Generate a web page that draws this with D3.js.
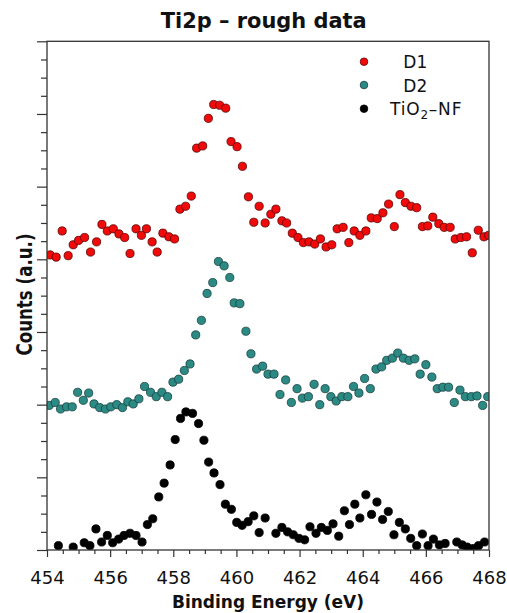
<!DOCTYPE html>
<html><head><meta charset="utf-8">
<script src="https://cdn.jsdelivr.net/npm/d3@7"></script>
<style>body{margin:0;background:#fff;} svg{display:block;}</style>
</head><body>
<svg id="c" width="507" height="613"></svg>
<script>
// ---- data (binding energy in eV, counts in arbitrary units) ----
const d1X = [454.10,454.29,454.48,454.67,454.83,455.00,455.19,455.38,455.57,455.74,
 455.91,456.10,456.28,456.46,456.63,456.82,456.99,457.15,457.33,457.49,
 457.67,457.86,458.04,458.21,458.39,458.57,458.74,458.93,459.11,459.28,
 459.47,459.66,459.83,460.02,460.19,460.38,460.55,460.72,460.91,461.09,
 461.25,461.44,461.59,461.77,461.95,462.12,462.30,462.48,462.66,462.84,
 463.02,463.19,463.38,463.56,463.73,463.91,464.10,464.27,464.46,464.64,
 464.82,465.00,465.18,465.35,465.53,465.71,465.89,466.06,466.22,466.41,
 466.58,466.77,466.93,467.11,467.29,467.47,467.66,467.84,467.99];
const d1Y = [4.06,4.03,4.39,4.05,4.20,4.26,4.30,4.10,4.24,4.48,
 4.39,4.42,4.35,4.30,4.08,4.42,4.33,4.42,4.24,4.10,
 4.36,4.31,4.28,4.69,4.73,4.87,5.53,5.56,5.94,6.13,
 6.12,6.08,5.62,5.55,5.28,4.86,4.51,4.73,4.50,4.62,
 4.69,4.53,4.50,4.36,4.30,4.23,4.24,4.21,4.28,4.17,
 4.20,4.42,4.44,4.23,4.39,4.33,4.39,4.57,4.56,4.64,
 4.76,4.45,4.89,4.78,4.73,4.71,4.45,4.46,4.58,4.49,
 4.44,4.44,4.28,4.30,4.31,4.09,4.40,4.31,4.33];

const d2X = [454.07,454.26,454.43,454.62,454.80,454.97,455.15,455.32,455.49,455.67,
 455.85,456.02,456.21,456.39,456.56,456.73,456.91,457.09,457.28,457.46,
 457.64,457.82,457.99,458.17,458.35,458.53,458.71,458.89,459.07,459.25,
 459.43,459.61,459.79,459.93,460.11,460.30,460.46,460.64,460.83,461.00,
 461.19,461.38,461.56,461.74,461.92,462.09,462.28,462.46,462.64,462.81,
 462.99,463.16,463.34,463.53,463.71,463.88,464.06,464.24,464.42,464.60,
 464.76,464.94,465.11,465.29,465.47,465.65,465.82,466.00,466.19,466.36,
 466.54,466.72,466.90,467.08,467.25,467.44,467.62,467.80,467.96];
const d2Y = [1.99,2.03,1.94,1.97,1.97,2.17,2.06,2.16,2.01,1.96,
 1.94,1.97,2.00,1.96,2.04,2.01,2.08,2.25,2.17,2.11,
 2.17,2.11,2.31,2.35,2.47,2.56,2.96,3.16,3.53,3.68,
 3.97,3.91,3.75,3.40,3.39,3.01,2.70,2.49,2.53,2.42,
 2.42,2.14,2.34,2.03,2.22,2.09,2.11,2.28,2.00,2.22,
 2.11,2.05,2.11,2.11,2.25,2.16,2.36,2.22,2.49,2.52,
 2.61,2.64,2.71,2.64,2.61,2.63,2.42,2.55,2.38,2.22,
 2.24,2.24,2.03,2.20,2.11,2.11,2.12,1.99,2.11];

const nfX = [454.36,454.83,455.18,455.36,455.55,455.73,455.91,456.08,456.27,456.44,
 456.63,456.82,457.01,457.18,457.35,457.54,457.71,457.90,458.06,458.23,
 458.40,458.61,458.80,458.97,459.12,459.29,459.48,459.65,459.84,460.01,
 460.18,460.37,460.55,460.72,460.91,461.25,461.44,461.62,461.80,461.98,
 462.16,462.33,462.52,462.69,462.88,463.06,463.24,463.42,463.58,463.75,
 463.91,464.10,464.28,464.45,464.63,464.81,464.99,465.16,465.35,465.52,
 465.71,465.89,466.07,466.24,466.43,466.61,466.98,467.15,467.31,467.50,
 467.67,467.86];
const nfY = [0.06,0.04,0.10,0.06,0.29,0.11,0.20,0.10,0.15,0.20,
 0.23,0.20,0.11,0.35,0.43,0.73,0.92,1.17,1.52,1.81,
 1.90,1.88,1.74,1.51,1.21,1.06,0.90,0.63,0.56,0.38,
 0.34,0.39,0.47,0.24,0.44,0.23,0.31,0.25,0.21,0.16,
 0.14,0.32,0.23,0.31,0.27,0.36,0.19,0.54,0.35,0.63,
 0.44,0.76,0.49,0.66,0.42,0.53,0.21,0.38,0.29,0.16,
 0.06,0.22,0.06,0.15,0.07,0.09,0.11,0.07,0.04,0.02,
 0.06,0.11];

const xMajorTicks = [454,456,458,460,462,464,466,468];
const xMinorTicks = [454.5,455,455.5,456.5,457,457.5,458.5,459,459.5,460.5,461,461.5,
                     462.5,463,463.5,464.5,465,465.5,466.5,467,467.5];
const yMajorTicks = [0,1,2,3,4,5,6,7];
const seriesNames = ["D1","D2","TiO2-NF"];
const titleText = "Ti2p \u2013 rough data";
const xTitle = "Binding Energy (eV)";
const yTitle = "Counts (a.u.)";

// ---- layout ----
const svg = d3.select("#c");
const P = {left:47, right:489, top:41.3, bottom:550};
const x = d3.scaleLinear().domain([454,468]).range([P.left,P.right]);
const y = d3.scaleLinear().domain([0,7]).range([P.bottom,P.top]);
const axisColor = "#333";

const series = [
  {name:seriesNames[0], xs:d1X, ys:d1Y, fill:"#f00a0a", stroke:"#5a0000"},
  {name:seriesNames[1], xs:d2X, ys:d2Y, fill:"#2c8a85", stroke:"#163f3c"},
  {name:seriesNames[2], xs:nfX, ys:nfY, fill:"#000000", stroke:"#000000"}
];

svg.append("defs").append("clipPath").attr("id","plotclip")
  .append("rect").attr("x",P.left).attr("y",P.top)
  .attr("width",P.right-P.left).attr("height",P.bottom-P.top);

// points
const plot = svg.append("g").attr("clip-path","url(#plotclip)");
series.forEach(s => {
  plot.append("g").selectAll("circle")
    .data(s.xs.map((v,i)=>[v,s.ys[i]]))
    .join("circle")
    .attr("cx",d=>x(d[0])).attr("cy",d=>y(d[1])).attr("r",4.1)
    .attr("fill",s.fill).attr("stroke",s.stroke).attr("stroke-width",0.8);
});

// x axis
const gxMinor = svg.append("g").attr("transform",`translate(0,${P.bottom})`)
  .call(d3.axisBottom(x).tickValues(xMinorTicks).tickSize(4).tickSizeOuter(0).tickFormat(""));
const gxMajor = svg.append("g").attr("transform",`translate(0,${P.bottom})`)
  .call(d3.axisBottom(x).tickValues(xMajorTicks).tickSize(7).tickSizeOuter(0).tickFormat(d3.format("d")));
[gxMinor,gxMajor].forEach(g=>{
  g.select(".domain").remove();
  g.selectAll(".tick line").attr("stroke",axisColor).attr("stroke-width",1.2);
});
gxMajor.selectAll(".tick text").attr("y",34.3).attr("dy",null)
  .attr("font-family","DejaVu Sans").attr("font-size",18).attr("fill","#111");

// y axis (no labels)
const yMinor = d3.range(1,28).map(k=>k/4).filter(v=>v%1!==0);
const gyMinor = svg.append("g").attr("transform",`translate(${P.left},0)`)
  .call(d3.axisLeft(y).tickValues(yMinor).tickSize(6).tickSizeOuter(0).tickFormat(""));
const gyMajor = svg.append("g").attr("transform",`translate(${P.left},0)`)
  .call(d3.axisLeft(y).tickValues(yMajorTicks).tickSize(10).tickSizeOuter(0).tickFormat(""));
[gyMinor,gyMajor].forEach(g=>{
  g.select(".domain").remove();
  g.selectAll(".tick line").attr("stroke",axisColor).attr("stroke-width",1.2);
});

// frame
svg.append("rect").attr("x",P.left).attr("y",P.top)
  .attr("width",P.right-P.left).attr("height",P.bottom-P.top)
  .attr("fill","none").attr("stroke",axisColor).attr("stroke-width",1.3);

// titles
svg.append("text").attr("x",263.7).attr("y",28.3).attr("text-anchor","middle")
  .attr("font-family","DejaVu Sans").attr("font-weight","bold").attr("font-size",22)
  .attr("textLength",206).attr("lengthAdjust","spacingAndGlyphs")
  .attr("fill","#111").text(titleText);
svg.append("text").attr("x",268).attr("y",608).attr("text-anchor","middle")
  .attr("font-family","DejaVu Sans").attr("font-weight","bold").attr("font-size",17)
  .attr("fill","#111").text(xTitle);
svg.append("text").attr("transform","translate(31.7,294.5) rotate(-90)").attr("text-anchor","middle")
  .attr("font-family","DejaVu Sans").attr("font-weight","bold").attr("font-size",21)
  .attr("textLength",122).attr("lengthAdjust","spacingAndGlyphs")
  .attr("fill","#111").text(yTitle);

// legend
const legY = [61.7, 85, 108.7];
const legTextX = [403.3, 403.3, 390];
const leg = svg.append("g");
series.forEach((s,i)=>{
  leg.append("circle").attr("cx",364).attr("cy",legY[i]).attr("r",3.8)
    .attr("fill",s.fill).attr("stroke",s.stroke).attr("stroke-width",0.8);
  const t = leg.append("text").attr("x",legTextX[i]).attr("y",legY[i]+6.6)
    .attr("font-family","DejaVu Sans").attr("font-size",17).attr("fill","#111");
  if (s.name === "TiO2-NF") {
    t.attr("letter-spacing",0.8);
    t.append("tspan").text("TiO");
    t.append("tspan").attr("font-size",12).attr("dy",3.5).text("2");
    t.append("tspan").attr("dy",-3.5).text("\u2013NF");
  } else {
    t.text(s.name);
  }
});
</script>
</body></html>
